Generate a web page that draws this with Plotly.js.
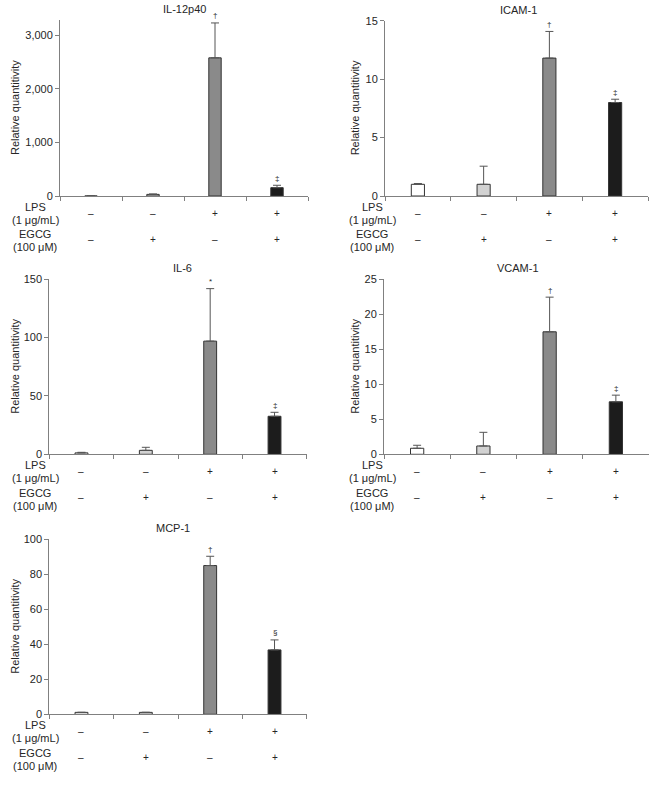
<!DOCTYPE html>
<html>
<head>
<meta charset="utf-8">
<script src="https://cdn.plot.ly/plotly-3.0.1.min.js"></script>
<style>html,body{margin:0;padding:0;background:#fff;}#chart{width:662px;height:785px;}</style>
</head>
<body>
<div id="chart"></div>
<script>
// ---- data ----
const groups = ['Control', 'EGCG', 'LPS', 'LPS+EGCG'];
const lpsSigns = ['–', '–', '+', '+'];
const egcgSigns = ['–', '+', '–', '+'];

const il12Values = [0, 30, 2575, 155];
const il12Errors = [0, 8, 650, 45];
const il12Marks = ['', '', '†', '‡'];

const icamValues = [1.0, 1.0, 11.8, 8.0];
const icamErrors = [0.07, 1.55, 2.28, 0.28];
const icamMarks = ['', '', '†', '‡'];

const il6Values = [1.2, 3.4, 97, 32.6];
const il6Errors = [0.5, 2.6, 45, 3.4];
const il6Marks = ['', '', '*', '‡'];

const vcamValues = [0.86, 1.19, 17.5, 7.5];
const vcamErrors = [0.43, 1.95, 4.95, 0.95];
const vcamMarks = ['', '', '†', '‡'];

const mcpValues = [1.1, 1.1, 85, 36.8];
const mcpErrors = [0, 0, 5.3, 5.7];
const mcpMarks = ['', '', '†', '§'];

const rowLabels = ['LPS', '(1 μg/mL)', 'EGCG', '(100 μM)'];

// ---- styles / layout ----
const W = 662, H = 785;
const barColors = ['#ffffff', '#d2d2d2', '#8a8a8a', '#1c1c1c'];
const FONT = '"Liberation Sans", Arial, sans-serif';
const TXT = '#262626';

const panels = [
  {title: 'IL-12p40', v: il12Values, e: il12Errors, m: il12Marks, range: [0, 3280], dtick: 1000, fmt: ',d',
   x0: 60, x1: 308, y0: 20, y1: 196, tx: 184, ytx: 15, lx: 35},
  {title: 'ICAM-1', v: icamValues, e: icamErrors, m: icamMarks, range: [0, 15], dtick: 5, fmt: 'd',
   x0: 385, x1: 648, y0: 20.7, y1: 196, tx: 518, ytx: 355, lx: 372},
  {title: 'IL-6', v: il6Values, e: il6Errors, m: il6Marks, range: [0, 150], dtick: 50, fmt: 'd',
   x0: 49.3, x1: 306.7, y0: 279.3, y1: 454.3, tx: 182.7, ytx: 15, lx: 35},
  {title: 'VCAM-1', v: vcamValues, e: vcamErrors, m: vcamMarks, range: [0, 25], dtick: 5, fmt: 'd',
   x0: 384, x1: 649, y0: 279.3, y1: 454.3, tx: 517.5, ytx: 355, lx: 372},
  {title: 'MCP-1', v: mcpValues, e: mcpErrors, m: mcpMarks, range: [0, 100], dtick: 20, fmt: 'd',
   x0: 49.3, x1: 306.7, y0: 539.3, y1: 714.3, tx: 172.5, ytx: 15, lx: 35}
];

const px = x => x / W;
const py = y => 1 - y / H;

const traces = [];
const annotations = [];
const layout = {
  width: W, height: H,
  margin: {l: 0, r: 0, t: 0, b: 0},
  paper_bgcolor: '#fff', plot_bgcolor: '#fff',
  showlegend: false,
  font: {family: FONT, size: 11, color: TXT},
  annotations: annotations
};

panels.forEach((p, i) => {
  const n = i + 1;
  const xa = 'x' + (n === 1 ? '' : n);
  const ya = 'y' + (n === 1 ? '' : n);
  traces.push({
    type: 'bar', x: groups, y: p.v, xaxis: xa, yaxis: ya, width: 0.2,
    marker: {color: barColors, line: {color: '#333', width: 1}},
    error_y: {type: 'data', symmetric: false, array: p.e, arrayminus: p.e.map(() => 0),
              color: '#555', thickness: 1, width: 4},
    hoverinfo: 'skip'
  });
  layout['xaxis' + (n === 1 ? '' : n)] = {
    domain: [px(p.x0), px(p.x1)], anchor: ya, type: 'category',
    range: [-0.5, 3.5], showgrid: false, zeroline: false,
    showline: true, linecolor: '#808080', linewidth: 1,
    ticks: 'outside', ticklen: 4, tickcolor: '#808080', tickson: 'boundaries',
    showticklabels: false, fixedrange: true
  };
  layout['yaxis' + (n === 1 ? '' : n)] = {
    domain: [py(p.y1), py(p.y0)], anchor: xa,
    range: p.range, dtick: p.dtick, tick0: 0, tickformat: p.fmt,
    showgrid: false, zeroline: false,
    showline: true, linecolor: '#808080', linewidth: 1,
    ticks: 'outside', ticklen: 4, tickcolor: '#808080',
    tickfont: {family: FONT, size: 11, color: TXT}, fixedrange: true
  };
  // title
  annotations.push({xref: 'paper', yref: 'paper', x: px(p.tx), y: py(p.y0 - 11),
    text: p.title, showarrow: false, xanchor: 'center', yanchor: 'middle',
    font: {family: FONT, size: 11, color: TXT}});
  // y axis title
  annotations.push({xref: 'paper', yref: 'paper', x: px(p.ytx), y: py((p.y0 + p.y1) / 2),
    text: 'Relative quantitivity', textangle: -90, showarrow: false,
    xanchor: 'center', yanchor: 'middle', font: {family: FONT, size: 11, color: TXT}});
  // significance marks
  p.m.forEach((mk, j) => {
    if (!mk) return;
    annotations.push({xref: xa, yref: ya, x: groups[j], y: p.v[j] + p.e[j], yshift: 7,
      text: mk, showarrow: false, xanchor: 'center', yanchor: 'middle',
      font: {family: FONT, size: 8, color: TXT}});
  });
  // row labels
  const offs = [10.7, 24, 38.3, 51.3];
  rowLabels.forEach((t, k) => {
    annotations.push({xref: 'paper', yref: 'paper', x: px(p.lx), y: py(p.y1 + offs[k]),
      text: t, showarrow: false, xanchor: 'center', yanchor: 'middle',
      font: {family: FONT, size: 11, color: TXT}});
  });
  // sign rows
  groups.forEach((g, j) => {
    annotations.push({xref: xa, yref: 'paper', x: g, y: py(p.y1 + 17.3),
      text: lpsSigns[j], showarrow: false, xanchor: 'center', yanchor: 'middle',
      font: {family: FONT, size: 10, color: TXT}});
    annotations.push({xref: xa, yref: 'paper', x: g, y: py(p.y1 + 43.3),
      text: egcgSigns[j], showarrow: false, xanchor: 'center', yanchor: 'middle',
      font: {family: FONT, size: 10, color: TXT}});
  });
});

Plotly.newPlot('chart', traces, layout, {staticPlot: true, displayModeBar: false});
</script>
</body>
</html>
